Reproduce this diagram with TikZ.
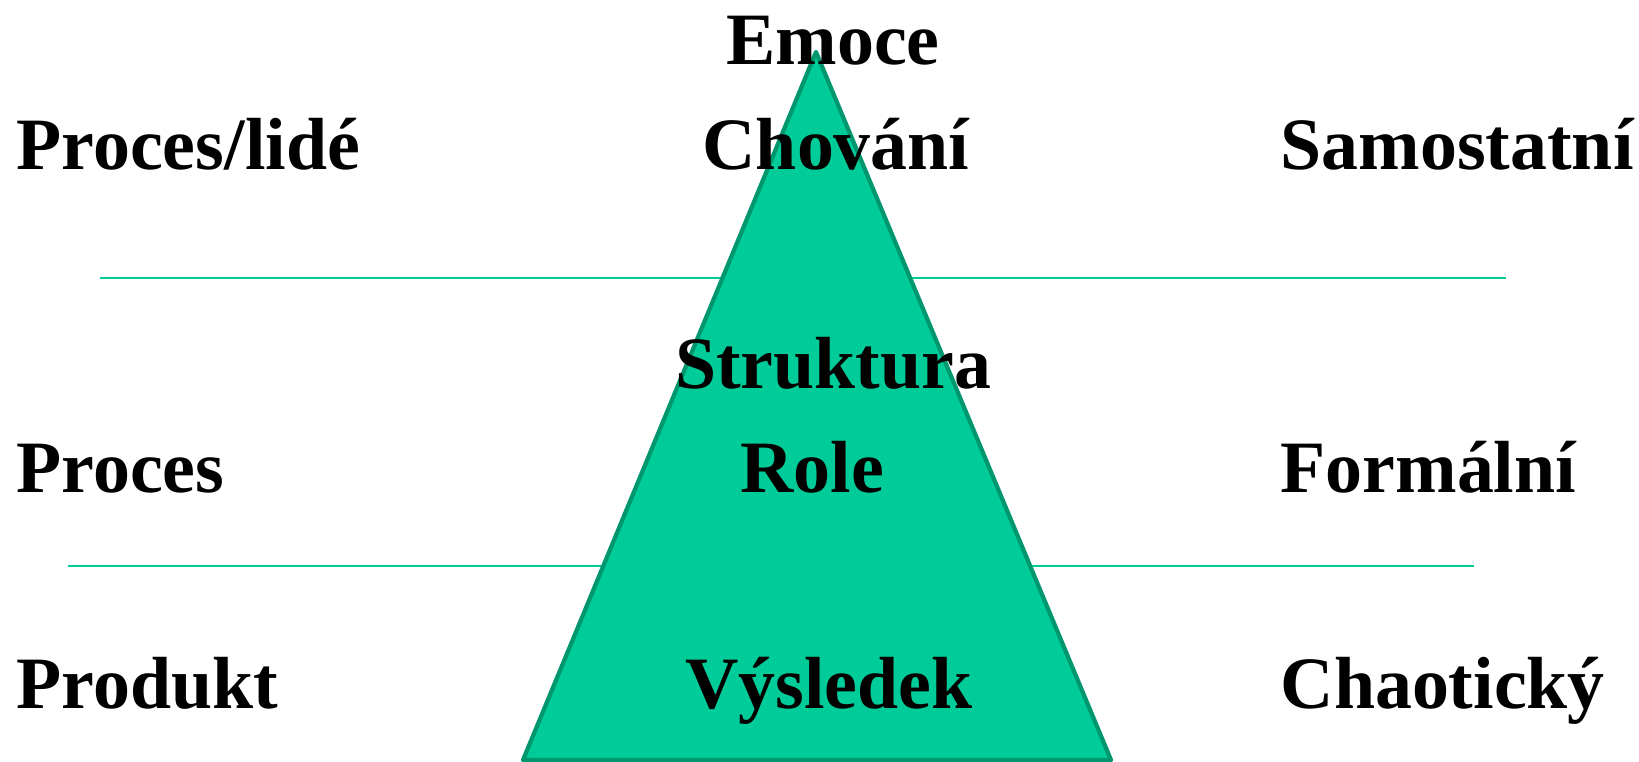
\documentclass[tikz,border=0pt]{standalone}
\usepackage{fontspec}
\setmainfont{Liberation Serif}
\usepackage{tikz}
\usetikzlibrary{positioning}

\definecolor{pyrfill}{RGB}{0,204,153}
\definecolor{pyrline}{RGB}{0,150,110}

\tikzset{
    lbl/.style={font=\fontsize{21}{25}\selectfont\bfseries, inner sep=0pt},
    sep/.style={draw=pyrfill, line width=0.6pt}
}

\begin{document}
\begin{tikzpicture}[x=0.01cm, y=-0.01cm]
    \useasboundingbox (0,0) rectangle (1639,762);
    % separating lines
    \coordinate (s1l) at (100,278);
    \coordinate (s1r) at (1506,278);
    \coordinate (s2l) at (68,566);
    \coordinate (s2r) at (1474,566);
    \draw [sep] (s1l) -- (s1r);
    \draw [sep] (s2l) -- (s2r);

    % the pyramid
    \coordinate (top) at (816,52);
    \coordinate (bl) at (523,760);
    \coordinate (br) at (1111,760);
    \draw [fill=pyrfill, draw=pyrline, line width=1.2pt, line join=round] (top) -- (br) -- (bl) -- cycle;

    % middle column
    \node[lbl, anchor=base] (emoce) at (833,65) {Emoce};
    \node[lbl, anchor=base] (chovani) at (836,170) {Chování};
    \node[lbl, anchor=base] (struktura) at (833,389) {Struktura};
    \node[lbl, anchor=base] (role) at (812,493) {Role};
    \node[lbl, anchor=base] (vysledek) at (829,709) {Výsledek};

    % left column
    \node[lbl, anchor=base west] (proclide) at (16,170) {Proces/lidé};
    \node[lbl, anchor=base west] (proces) at (16,493) {Proces};
    \node[lbl, anchor=base west] (produkt) at (16,709) {Produkt};

    % right column
    \node[lbl, anchor=base west] (samost) at (1280,170) {Samostatní};
    \node[lbl, anchor=base west] (formal) at (1280,493) {Formální};
    \node[lbl, anchor=base west] (chaot) at (1280,709) {Chaotický};
\end{tikzpicture}
\end{document}
